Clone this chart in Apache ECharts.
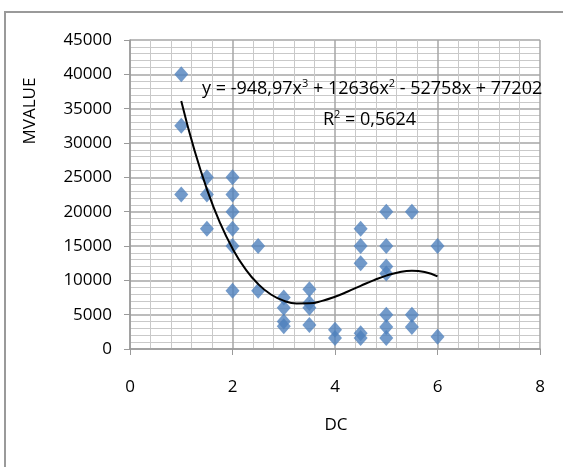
<!DOCTYPE html>
<html>
<head>
<meta charset="utf-8">
<script src="https://cdn.jsdelivr.net/npm/echarts@6/dist/echarts.min.js"></script>
<style>html,body{margin:0;padding:0;background:#fff}#c{width:563px;height:467px}</style>
</head>
<body>
<div id="c"></div>
<script>
// Observed points: DC value and MVALUE values at that DC
var dcLevels = [1, 1.5, 2, 2.5, 3, 3.5, 4, 4.5, 5, 5.5, 6];
var mvalueAt = [
  [40000, 32500, 22500],
  [25000, 22500, 17500],
  [25000, 22500, 20000, 17500, 15000, 8500],
  [15000, 8500],
  [7500, 6000, 4000, 3300],
  [8700, 6700, 6000, 3500],
  [2800, 1600],
  [17500, 15000, 12500, 2300, 1600],
  [20000, 15000, 12000, 11000, 5000, 3200, 1600],
  [20000, 5000, 3200],
  [15000, 1800]
];
// Trend curve
var trendX = [1, 1.25, 1.5, 1.75, 2, 2.25, 2.5, 2.75, 3, 3.25, 3.5, 3.75, 4, 4.25, 4.5, 4.75, 5, 5.25, 5.5, 5.75, 6];
var trendY = [36131, 29145, 23293, 18487, 14638, 11657, 9454, 7942, 7030, 6630, 6653, 7010, 7612, 8370, 9195, 9998, 10691, 11184, 11387, 11213, 10573];
var yTicks = {min: 0, max: 45000, interval: 5000};
var xTicks = {min: 0, max: 8, interval: 2};
var equationText = 'y = -948,97x{s|3} + 12636x{s|2} - 52758x + 77202';
var r2Text = 'R{s|2} = 0,5624';
var yTitle = 'MVALUE';
var xTitle = 'DC';

var pts = [];
dcLevels.forEach(function (x, i) { mvalueAt[i].forEach(function (v) { pts.push([x, v]); }); });
var trend = trendX.map(function (x, i) { return [x, trendY[i]]; });

var font = 'Open Sans';
var sup = {s: {fontSize: 11, verticalAlign: 'top', padding: [0, 0, 10, 0], fontFamily: font}};
var chart = echarts.init(document.getElementById('c'));
chart.setOption({
  animation: false,
  grid: {left: 130, right: 23, top: 40, bottom: 118},
  xAxis: {
    type: 'value', min: xTicks.min, max: xTicks.max, interval: xTicks.interval,
    axisLine: {show: true, lineStyle: {color: '#9a9a9a', width: 1.5}},
    axisTick: {show: true, inside: false, length: 6, lineStyle: {color: '#9a9a9a'}},
    axisLabel: {color: '#000', fontFamily: font, fontSize: 17, margin: 30},
    splitLine: {show: true, lineStyle: {color: '#a6a6a6', width: 1.5}},
    minorTick: {show: false, splitNumber: 5},
    minorSplitLine: {show: true, lineStyle: {color: '#c9c9c9', width: 1}}
  },
  yAxis: {
    type: 'value', min: yTicks.min, max: yTicks.max, interval: yTicks.interval,
    axisLine: {show: true, lineStyle: {color: '#9a9a9a', width: 1.5}},
    axisTick: {show: true, inside: false, length: 6, lineStyle: {color: '#9a9a9a'}},
    axisLabel: {color: '#000', fontFamily: font, fontSize: 17, margin: 18,
      formatter: function (v) { return String(v); }},
    splitLine: {show: true, lineStyle: {color: '#a6a6a6', width: 1.5}},
    minorTick: {show: false, splitNumber: 5},
    minorSplitLine: {show: true, lineStyle: {color: '#c9c9c9', width: 1}}
  },
  series: [
    {
      type: 'scatter', data: pts, symbol: 'diamond', symbolSize: [14, 16],
      itemStyle: {color: '#4F81BD'}, z: 2
    },
    {
      type: 'line', data: trend, smooth: true, showSymbol: false, symbol: 'none',
      lineStyle: {color: '#000', width: 2}, z: 3
    }
  ],
  graphic: [
    {type: 'rect', z: -1, shape: {x: 5, y: 12, width: 600, height: 500}, style: {fill: 'none', stroke: '#9a9a9a', lineWidth: 2}},
    {type: 'text', z: 100, left: 202, top: 78, style: {text: equationText, fontFamily: font, fontSize: 18, fill: '#000', rich: sup}},
    {type: 'text', z: 100, left: 323, top: 109, style: {text: r2Text, fontFamily: font, fontSize: 18, fill: '#000', rich: sup}},
    {type: 'text', z: 100, x: 30, y: 111, rotation: Math.PI / 2, style: {text: yTitle, fontFamily: font, fontSize: 17, fill: '#000', align: 'center', verticalAlign: 'middle'}},
    {type: 'text', z: 100, x: 336, y: 425, style: {text: xTitle, fontFamily: font, fontSize: 17, fill: '#000', align: 'center', verticalAlign: 'middle'}}
  ]
});
</script>
</body>
</html>
